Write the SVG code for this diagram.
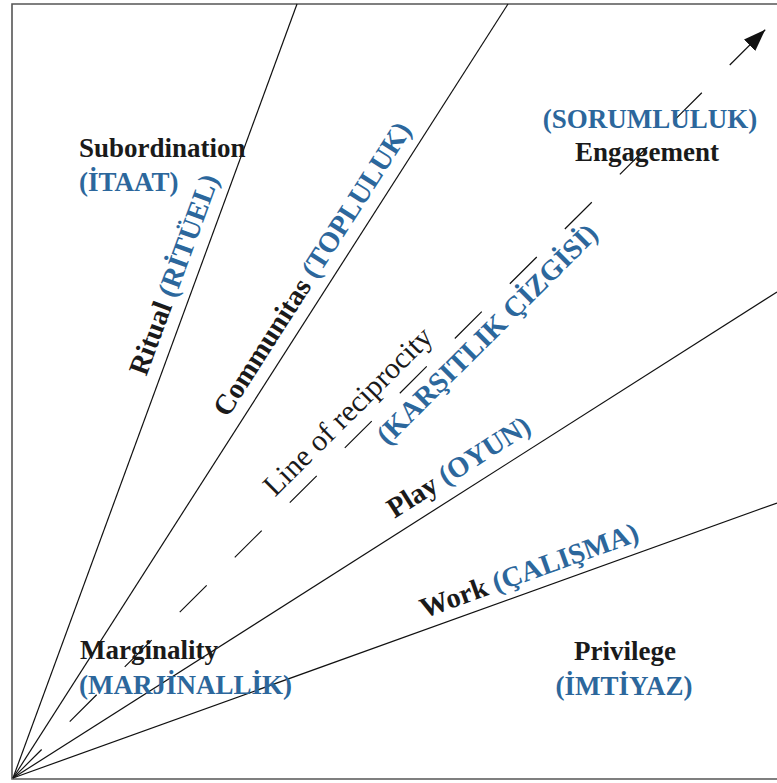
<svg xmlns="http://www.w3.org/2000/svg" width="777" height="783" viewBox="0 0 777 783">
  <style>
    .t { font-family: "Liberation Serif", "Times New Roman", serif; font-size: 27px; }
    .rt { font-size: 28.5px; }
    .k { fill: #1a1a1a; font-weight: bold; }
    .r { fill: #1a1a1a; font-weight: normal; }
    .b { fill: #2c679c; font-weight: bold; }
    .ln { stroke: #111; stroke-width: 1.2; fill: none; }
    .frame { stroke: #555; stroke-width: 1.6; fill: none; }
  </style>
  <defs>
    <marker id="ah" markerUnits="userSpaceOnUse" markerWidth="24" markerHeight="16" refX="22" refY="8" orient="auto">
      <path d="M0,0 L22,8 L0,16 Z" fill="#111"/>
    </marker>
  </defs>
  <rect width="777" height="783" fill="#fff"/>
  <path class="frame" d="M780,4 H12 V779 H780"/>

  <g id="connectors">
    <line class="ln" x1="13" y1="778" x2="297" y2="4"/>
    <line class="ln" x1="13" y1="778" x2="508" y2="4"/>
    <line class="ln" x1="13" y1="778" x2="777" y2="292"/>
    <line class="ln" x1="13" y1="778" x2="777" y2="503"/>
    <g transform="translate(13,778) rotate(-44.85)">
      <line class="ln" x1="0" y1="0" x2="1000" y2="0" stroke-dasharray="38 39.6" stroke-dashoffset="75.2"/>
      <line class="ln" x1="1011" y1="0" x2="1061" y2="0" marker-end="url(#ah)"/>
    </g>
  </g>

  <g id="subordination">
    <text class="t k" x="79" y="157">Subordination</text>
    <text class="t b" x="79" y="191">(İTAAT)</text>
  </g>
  <g id="engagement">
    <text class="t b" x="650" y="128" text-anchor="middle">(SORUMLULUK)</text>
    <text class="t k" x="647" y="161" text-anchor="middle">Engagement</text>
  </g>
  <g id="marginality">
    <text class="t k" x="80" y="659">Marginality</text>
    <text class="t b" x="79" y="694">(MARJİNALLİK)</text>
  </g>
  <g id="privilege">
    <text class="t k" x="625" y="660" text-anchor="middle">Privilege</text>
    <text class="t b" x="624" y="695" text-anchor="middle">(İMTİYAZ)</text>
  </g>

  <g id="ritual" transform="translate(13,778) rotate(-69.85)">
    <text class="t rt" x="528" y="-13" text-anchor="middle"><tspan class="k">Ritual</tspan><tspan class="b"> (RİTÜEL)</tspan></text>
  </g>
  <g id="communitas" transform="translate(13,778) rotate(-57.4)">
    <text class="t rt" x="590" y="-13" text-anchor="middle"><tspan class="k">Communitas</tspan><tspan class="b"> (TOPLULUK)</tspan></text>
  </g>
  <g id="reciprocity" transform="translate(13,778) rotate(-44.85)">
    <text class="t r" x="496" y="-14" text-anchor="middle" style="font-size:30px">Line of reciprocity</text>
    <text class="t rt b" x="649" y="29" text-anchor="middle">(KARŞITLIK ÇİZGİSİ)</text>
  </g>
  <g id="play" transform="translate(13,778) rotate(-32.46)">
    <text class="t rt" x="543" y="-14" text-anchor="middle"><tspan class="k">Play</tspan><tspan class="b"> (OYUN)</tspan></text>
  </g>
  <g id="work" transform="translate(13,778) rotate(-19.8)">
    <text class="t rt" x="556" y="-11" text-anchor="middle"><tspan class="k">Work</tspan><tspan class="b"> (ÇALIŞMA)</tspan></text>
  </g>
</svg>
